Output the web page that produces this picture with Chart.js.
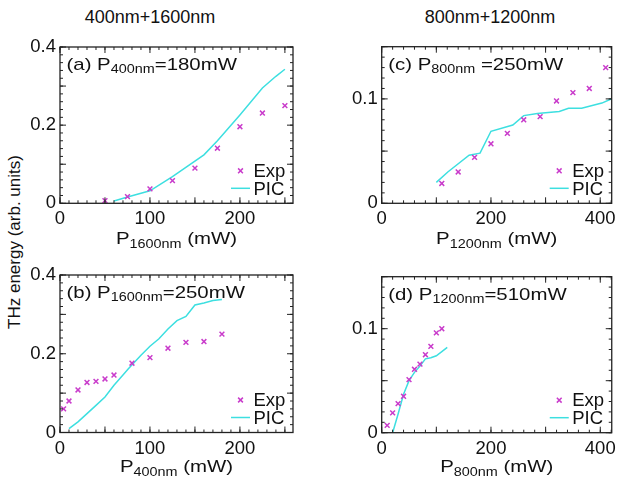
<!DOCTYPE html>
<html><head><meta charset="utf-8">
<script src="https://cdn.jsdelivr.net/npm/chart.js@4.4.0/dist/chart.umd.min.js"></script>
<style>
body{margin:0;background:#fff;width:621px;height:479px;overflow:hidden;position:relative;font-family:"Liberation Sans",Arial,sans-serif;color:#111;}
canvas{position:absolute;}
.col{position:absolute;top:7px;font-size:18px;transform:translateX(-50%);white-space:nowrap;}
.ylab{position:absolute;left:15px;top:242px;font-size:17px;transform:translate(-50%,-50%) rotate(-90deg);white-space:nowrap;}
</style></head><body>
<div class="col" style="left:150px">400nm+1600nm</div>
<div class="col" style="left:490px">800nm+1200nm</div>
<div class="ylab">THz energy (arb. units)</div>
<canvas id="ca" width="320" height="252" style="left:0;top:0"></canvas>
<canvas id="cc" width="301" height="252" style="left:320px;top:0"></canvas>
<canvas id="cb" width="320" height="239" style="left:0;top:240px"></canvas>
<canvas id="cd" width="301" height="239" style="left:320px;top:240px"></canvas>
<script>
// ---- data ----
const aExpX = [50, 75, 100, 125, 150, 175, 200, 225, 250];
const aExpY = [0.007, 0.017, 0.037, 0.058, 0.090, 0.141, 0.196, 0.231, 0.250];
const aPicX = [60, 75, 100, 125, 160, 175, 200, 225, 240, 250];
const aPicY = [0.006, 0.016, 0.032, 0.068, 0.124, 0.160, 0.226, 0.295, 0.325, 0.343];

const bExpX = [4, 10, 20, 30, 40, 50, 60, 80, 100, 120, 140, 160, 180];
const bExpY = [0.060, 0.080, 0.108, 0.127, 0.130, 0.136, 0.146, 0.176, 0.190, 0.214, 0.229, 0.231, 0.250];
const bPicX = [10, 20, 30, 40, 50, 60, 70, 76, 90, 100, 110, 120, 130, 140, 150, 160, 170, 180];
const bPicY = [0.010, 0.027, 0.048, 0.069, 0.090, 0.120, 0.146, 0.162, 0.196, 0.219, 0.238, 0.263, 0.284, 0.295, 0.324, 0.329, 0.335, 0.338];

const cExpX = [110, 140, 170, 200, 230, 260, 290, 320, 350, 380, 410];
const cExpY = [0.019, 0.030, 0.044, 0.057, 0.067, 0.080, 0.083, 0.098, 0.106, 0.110, 0.130];
const cPicX = [100, 121, 160, 180, 200, 240, 260, 285, 325, 342, 366, 403, 425];
const cPicY = [0.020, 0.030, 0.046, 0.048, 0.069, 0.075, 0.084, 0.086, 0.088, 0.091, 0.091, 0.096, 0.101];

const dExpX = [10, 20, 30, 40, 50, 60, 70, 80, 90, 100, 110];
const dExpY = [0.007, 0.019, 0.028, 0.035, 0.051, 0.061, 0.066, 0.075, 0.083, 0.096, 0.100];
const dPicX = [20, 30, 40, 50, 60, 70, 80, 90, 100, 110, 120];
const dPicY = [0.000, 0.018, 0.037, 0.050, 0.058, 0.064, 0.071, 0.072, 0.074, 0.078, 0.082];

const seriesLabels = ['Exp', 'PIC'];

// ---- styling ----
const FONT = '"Liberation Sans", Arial, sans-serif';
const MAG = '#c93ccb';
const CYAN = '#3ddfe0';
const INK = '#111';

function zip(xs, ys) { return xs.map((x, i) => ({x: x, y: ys[i]})); }

function drawSub(ctx, pre, sub, post, x, y, size, subSize, subDy, sx, center) {
  ctx.font = size + 'px ' + FONT;
  const w1 = ctx.measureText(pre).width;
  const w3 = ctx.measureText(post).width;
  ctx.font = subSize + 'px ' + FONT;
  const w2 = ctx.measureText(sub).width;
  const total = (w1 + w2 + w3) * sx;
  if (center) x -= total / 2;
  ctx.save();
  ctx.translate(x, y);
  ctx.scale(sx, 1);
  ctx.textBaseline = 'alphabetic';
  ctx.textAlign = 'left';
  ctx.fillStyle = INK;
  ctx.font = size + 'px ' + FONT;
  ctx.fillText(pre, 0, 0);
  ctx.font = subSize + 'px ' + FONT;
  ctx.fillText(sub, w1, subDy);
  ctx.font = size + 'px ' + FONT;
  ctx.fillText(post, w1 + w2, 0);
  ctx.restore();
}

const decor = {
  id: 'decor',
  afterDraw(chart, args, o) {
    const ctx = chart.ctx, a = chart.chartArea, xs = chart.scales.x, ys = chart.scales.y;
    ctx.save();
    ctx.strokeStyle = '#222';
    ctx.lineWidth = 1;
    const tick = (scale, step, len, horiz) => {
      const n = Math.floor(scale.max / step + 1e-6);
      for (let i = 0; i <= n; i++) {
        const p = scale.getPixelForValue(i * step);
        ctx.beginPath();
        if (horiz) {
          ctx.moveTo(p, a.bottom); ctx.lineTo(p, a.bottom - len);
          ctx.moveTo(p, a.top); ctx.lineTo(p, a.top + len);
        } else {
          ctx.moveTo(a.left, p); ctx.lineTo(a.left + len, p);
          ctx.moveTo(a.right, p); ctx.lineTo(a.right - len, p);
        }
        ctx.stroke();
      }
    };
    tick(xs, o.xMinor, 3, true); tick(xs, o.xMajor, 6, true);
    tick(ys, o.yMinor, 3, false); tick(ys, o.yMajor, 6, false);
    ctx.lineWidth = 1.3;
    ctx.strokeRect(a.left, a.top, a.right - a.left, a.bottom - a.top);

    // panel label
    drawSub(ctx, o.lab[0], o.lab[1], o.lab[2], a.left + 6.5, a.top + 23, 17, 12, 3.3, 1.2, false);
    // x title
    drawSub(ctx, o.xt[0], o.xt[1], o.xt[2], (a.left + a.right) / 2, a.bottom + o.xtDy, 17, 12, 3.5, 1.2, true);

    // legend
    const R = a.right, B = a.bottom;
    const ds0 = chart.data.datasets[0], ds1 = chart.data.datasets[1];
    ctx.strokeStyle = ds0.borderColor; ctx.lineWidth = 1.5;
    const mx = R - 52.5, my = B - 32.5, r = 2.4;
    ctx.beginPath();
    ctx.moveTo(mx - r, my - r); ctx.lineTo(mx + r, my + r);
    ctx.moveTo(mx - r, my + r); ctx.lineTo(mx + r, my - r);
    ctx.stroke();
    ctx.strokeStyle = ds1.borderColor; ctx.lineWidth = 1.5;
    ctx.beginPath(); ctx.moveTo(R - 62, B - 15); ctx.lineTo(R - 43, B - 15); ctx.stroke();
    ctx.fillStyle = INK; ctx.font = '18.5px ' + FONT; ctx.textAlign = 'left'; ctx.textBaseline = 'alphabetic';
    ctx.fillText(ds0.label, R - 39.5, B - 26.6);
    ctx.fillText(ds1.label, R - 39.5, B - 8.3);
    ctx.restore();
  }
};

function makeChart(id, c) {
  return new Chart(document.getElementById(id), {
    type: 'scatter',
    data: {
      datasets: [
        {label: seriesLabels[0], data: zip(c.expX, c.expY), showLine: false, pointStyle: 'crossRot',
         pointRadius: 3.4, pointHoverRadius: 3.4, borderColor: MAG, backgroundColor: MAG, pointBorderWidth: 1.5, borderWidth: 1.5},
        {label: seriesLabels[1], data: zip(c.picX, c.picY), showLine: true, borderColor: CYAN, backgroundColor: CYAN,
         borderWidth: 1.5, pointRadius: 0, pointHoverRadius: 0, tension: 0, fill: false}
      ]
    },
    options: {
      responsive: false, animation: false, events: [],
      layout: {padding: {left: 0, top: c.padTop, right: c.padRight, bottom: 0}},
      plugins: {legend: {display: false}, tooltip: {enabled: false},
        decor: {xMinor: c.xMinor, xMajor: c.xMajor, yMinor: c.yMinor, yMajor: c.yMajor, lab: c.lab, xt: c.xt, xtDy: c.xtDy}},
      scales: {
        x: {type: 'linear', min: 0, max: c.xMax,
            grid: {display: false, drawTicks: false}, border: {display: false},
            ticks: {stepSize: 100, includeBounds: false, autoSkip: false, maxRotation: 0, padding: 5,
                    color: INK, font: {family: FONT, size: 18.5},
                    callback: (v) => (Math.abs(v % c.xStep) < 1e-6 ? String(v) : '')},
            afterFit(s) { s.height = c.xH; }},
        y: {type: 'linear', min: 0, max: c.yMax,
            grid: {display: false, drawTicks: false}, border: {display: false},
            ticks: {stepSize: c.yStep, includeBounds: false, autoSkip: false, padding: 4,
                    color: INK, font: {family: FONT, size: 18.5}},
            afterFit(s) { s.width = c.yW; }}
      }
    },
    plugins: [decor]
  });
}

makeChart('ca', {expX: aExpX, expY: aExpY, picX: aPicX, picY: aPicY, xMax: 259, yMax: 0.4, xStep: 100, yStep: 0.2,
  xMinor: 10, xMajor: 50, yMinor: 0.02, yMajor: 0.1, padTop: 47, padRight: 27, yW: 60, xH: 48.7,
  lab: ['(a) P', '400nm', '=180mW'], xt: ['P', '1600nm', ' (mW)'], xtDy: 40.7});
makeChart('cb', {expX: bExpX, expY: bExpY, picX: bPicX, picY: bPicY, xMax: 259, yMax: 0.4, xStep: 100, yStep: 0.2,
  xMinor: 10, xMajor: 50, yMinor: 0.02, yMajor: 0.1, padTop: 35, padRight: 27, yW: 60, xH: 46.5,
  lab: ['(b) P', '1600nm', '=250mW'], xt: ['P', '400nm', ' (mW)'], xtDy: 39.5});
makeChart('cc', {expX: cExpX, expY: cExpY, picX: cPicX, picY: cPicY, xMax: 421, yMax: 0.15, xStep: 200, yStep: 0.1,
  xMinor: 20, xMajor: 100, yMinor: 0.01, yMajor: 0.05, padTop: 46.7, padRight: 7, yW: 61.7, xH: 48.7,
  lab: ['(c) P', '800nm', ' =250mW'], xt: ['P', '1200nm', ' (mW)'], xtDy: 40.7});
makeChart('cd', {expX: dExpX, expY: dExpY, picX: dPicX, picY: dPicY, xMax: 421, yMax: 0.15, xStep: 200, yStep: 0.1,
  xMinor: 20, xMajor: 100, yMinor: 0.01, yMajor: 0.05, padTop: 36.7, padRight: 6, yW: 61.7, xH: 46.3,
  lab: ['(d) P', '1200nm', '=510mW'], xt: ['P', '800nm', ' (mW)'], xtDy: 39.5});
</script>
</body></html>
